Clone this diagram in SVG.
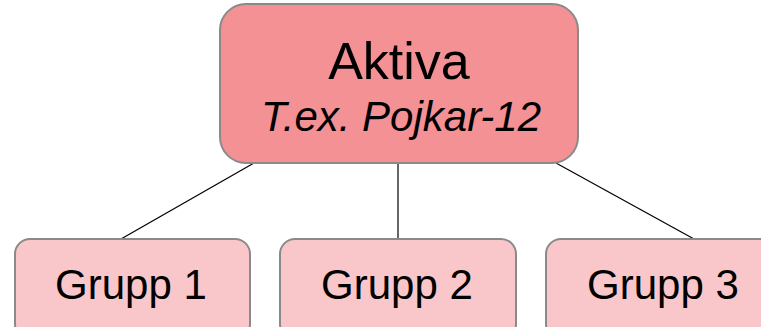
<svg xmlns="http://www.w3.org/2000/svg" width="761" height="327" viewBox="0 0 761 327">
<style>
.node rect{stroke:#8a8a8a;stroke-width:2}
.top rect{fill:#f49195}
.sub rect{fill:#f9c6ca}
text{font-family:"Liberation Sans",Arial,sans-serif;fill:#000;text-anchor:middle}
.edges line{stroke:#000;stroke-width:1.2}
</style>
<rect width="761" height="327" fill="#fff"/>
<g class="edges">
<line x1="254" y1="163" x2="121" y2="239"/>
<line x1="398" y1="163" x2="398" y2="239"/>
<line x1="556" y1="163" x2="694" y2="239"/>
</g>
<g id="aktiva" class="node top">
<rect x="220" y="4" width="358" height="159" rx="26"/>
<text x="399" y="79" font-size="52">Aktiva</text>
<text x="401" y="131" font-size="42" font-style="italic">T.ex. Pojkar-12</text>
</g>
<g id="grupp1" class="node sub">
<rect x="15" y="239" width="235" height="100" rx="15"/>
<text x="131" y="299" font-size="42">Grupp 1</text>
</g>
<g id="grupp2" class="node sub">
<rect x="280" y="239" width="236" height="100" rx="15"/>
<text x="397" y="299" font-size="42">Grupp 2</text>
</g>
<g id="grupp3" class="node sub">
<rect x="546" y="239" width="236" height="100" rx="15"/>
<text x="663" y="299" font-size="42">Grupp 3</text>
</g>
</svg>
